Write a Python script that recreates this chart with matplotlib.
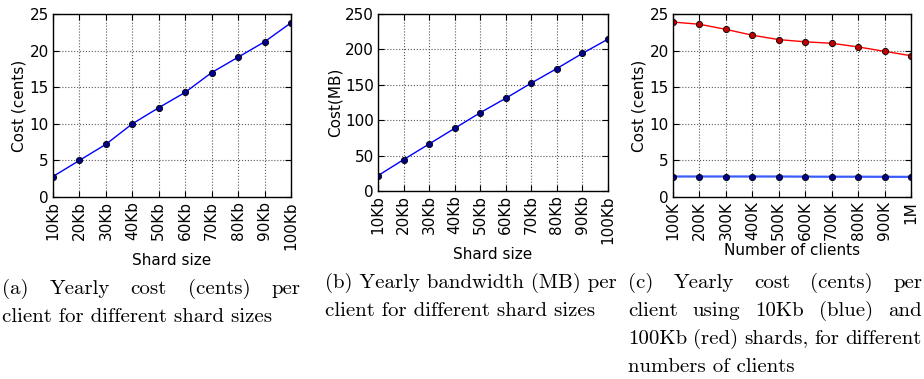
import matplotlib
matplotlib.use('Agg')
import matplotlib.pyplot as plt

W, H = 924, 379

# --- datos
shard_labels = ['10Kb', '20Kb', '30Kb', '40Kb', '50Kb', '60Kb', '70Kb', '80Kb', '90Kb', '100Kb']
cost_shard = [2.8, 5.0, 7.2, 10.0, 12.2, 14.3, 17.0, 19.1, 21.2, 23.8]
bw_shard = [21.7, 44.3, 66.4, 88.5, 110.6, 131.0, 152.5, 173.0, 194.4, 214.5]

client_labels = ['100K', '200K', '300K', '400K', '500K', '600K', '700K', '800K', '900K', '1M']
cost_10kb = [2.8, 2.8, 2.8, 2.8, 2.8, 2.78, 2.77, 2.77, 2.76, 2.75]
cost_100kb = [23.9, 23.6, 22.9, 22.1, 21.5, 21.2, 21.0, 20.5, 19.9, 19.3]

fig = plt.figure(figsize=(W / 100, H / 100), dpi=100)


def make_axes(left, right, top, bottom):
    return fig.add_axes([left / W, 1 - bottom / H, (right - left) / W, (bottom - top) / H])


def style(ax, labels, ymax, ystep, xlabel, ylabel):
    ax.set_xlim(0, len(labels) - 1)
    ax.set_ylim(0, ymax)
    ax.set_xticks(range(len(labels)))
    ax.set_xticklabels(labels, rotation=90)
    ax.set_yticks(range(0, ymax + 1, ystep))
    ax.tick_params(direction='in', top=True, right=True, labelsize=11, pad=3, length=4)
    ax.grid(True, linestyle=':', color='0.35', linewidth=0.8)
    ax.set_xlabel(xlabel, fontsize=11, labelpad=2)
    ax.set_ylabel(ylabel, fontsize=11, labelpad=2)
    for s in ax.spines.values():
        s.set_linewidth(1.0)


x = range(len(shard_labels))

# (a)
ax1 = make_axes(53, 291, 14, 197)
ax1.plot(x, cost_shard, color='b', lw=1, marker='o', ms=4.5, mfc='#00008b', mec='k', mew=0.6)
style(ax1, shard_labels, 25, 5, 'Shard size', 'Cost (cents)')

# (b)
ax2 = make_axes(378, 608, 14, 191)
ax2.plot(x, bw_shard, color='b', lw=1, marker='o', ms=4.5, mfc='#00008b', mec='k', mew=0.6)
style(ax2, shard_labels, 250, 50, 'Shard size', 'Cost(MB)')

# (c)
ax3 = make_axes(673, 911, 14, 197)
ax3.plot(x, cost_10kb, color='#3a5cff', lw=1.6, marker='o', ms=4.5, mfc='#00008b', mec='k', mew=0.6)
ax3.plot(x, cost_100kb, color='r', lw=1, marker='o', ms=4.5, mfc='#c00000', mec='k', mew=0.6)
style(ax3, client_labels, 25, 5, 'Number of clients', 'Cost (cents)')

# --- pies de figura (texto justificado como en LaTeX)
cap_font = dict(family='cmr10', fontsize=15)
renderer = fig.canvas.get_renderer()


def caption(lines, x0, x1, y0, step=27.5):
    for i, (line, just) in enumerate(lines):
        yb = 1 - (y0 + i * step) / H
        if not just:
            fig.text(x0 / W, yb, line, va='baseline', ha='left', **cap_font)
            continue
        words = line.split()
        texts = [fig.text(0, yb, w, va='baseline', ha='left', **cap_font) for w in words]
        widths = [t.get_window_extent(renderer).width for t in texts]
        gap = (x1 - x0 - sum(widths)) / (len(words) - 1)
        xp = x0
        for t, w in zip(texts, widths):
            t.set_position((xp / W, yb))
            xp += w + gap


caption([('(a) Yearly cost (cents) per', True),
         ('client for different shard sizes', False)], 2, 300, 294)
caption([('(b) Yearly bandwidth (MB) per', False),
         ('client for different shard sizes', False)], 325, 617, 288)
caption([('(c) Yearly cost (cents) per', True),
         ('client using 10Kb (blue) and', True),
         ('100Kb (red) shards, for different', True),
         ('numbers of clients', False)], 628, 922, 288, 28)

fig.savefig('out.png', dpi=100)
